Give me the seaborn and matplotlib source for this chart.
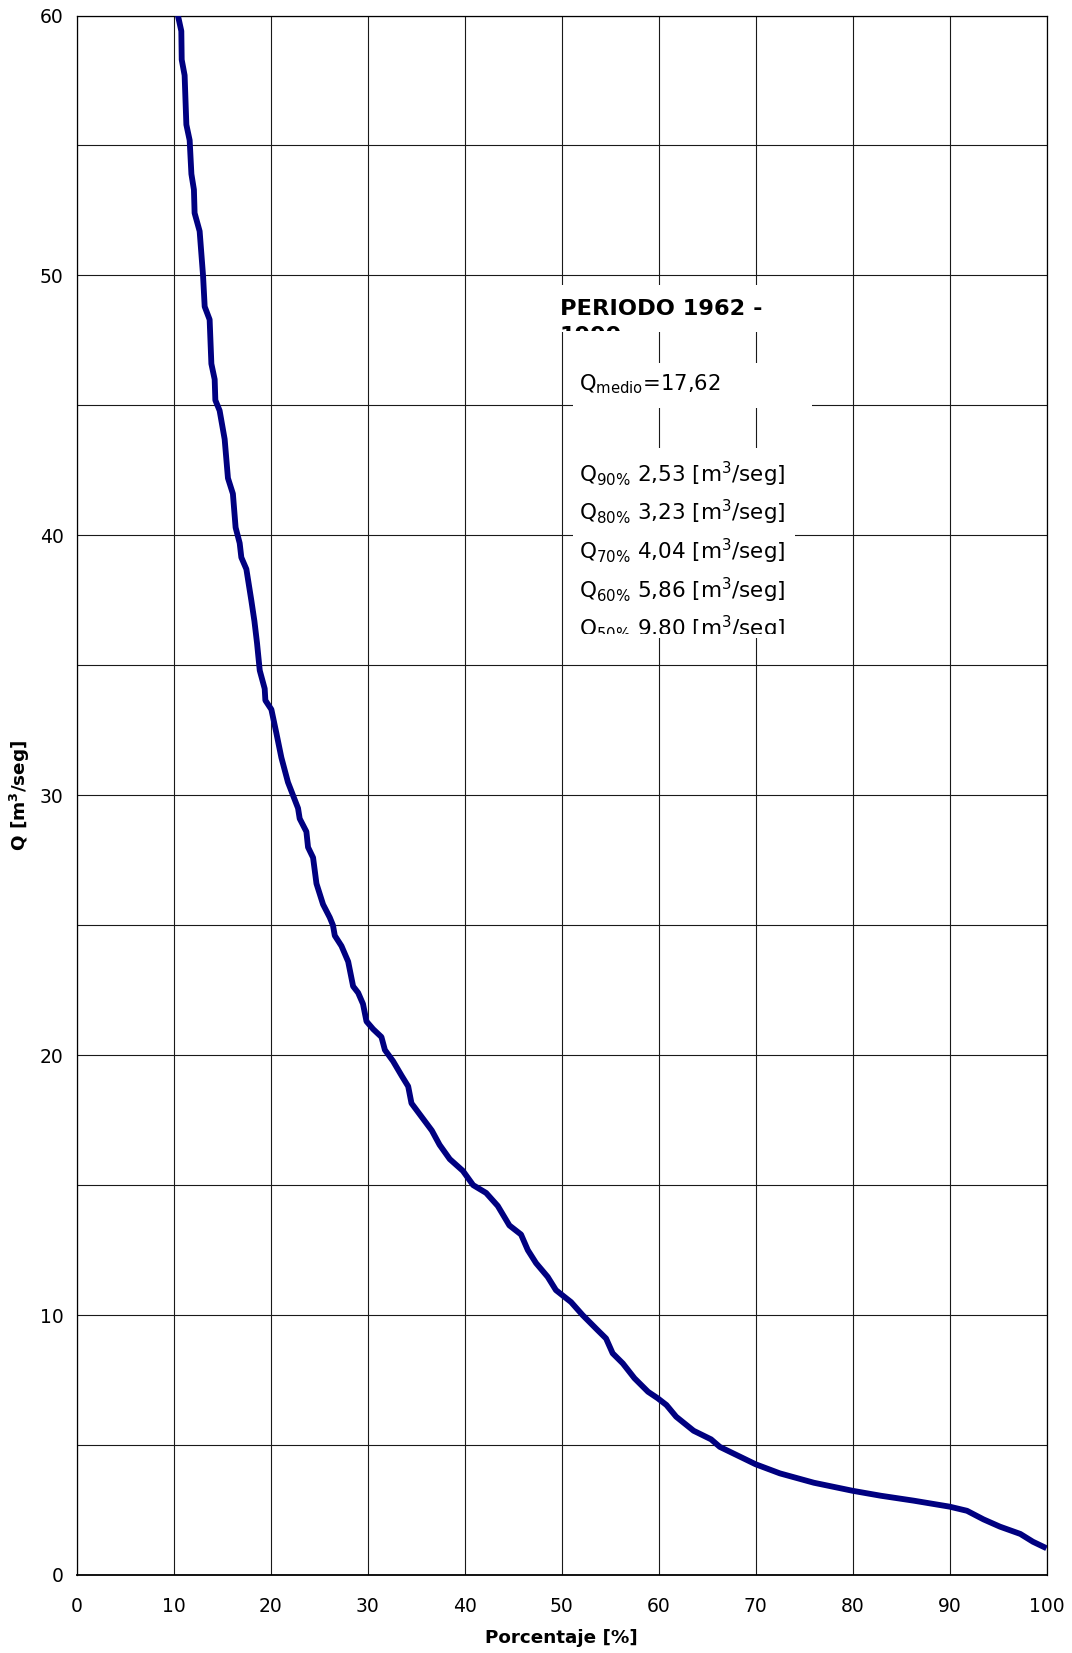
import matplotlib
matplotlib.use("Agg")
import matplotlib.pyplot as plt
import seaborn as sns
import pandas as pd
from matplotlib.patches import Rectangle
from matplotlib.transforms import Bbox, TransformedBbox

# ---------------- data ----------------
percent = [10.41, 10.76, 10.80, 11.10, 11.28, 11.62, 11.80, 12.06, 12.13, 12.65,
           13.00, 13.17, 13.68, 13.86, 14.20, 14.27, 14.71, 15.23, 15.57, 16.08,
           16.36, 16.78, 16.95, 17.47, 17.98, 18.30, 18.57, 18.85, 19.36, 19.43,
           20.05, 20.56, 21.08, 21.76, 22.28, 22.80, 22.97, 23.66, 23.83, 24.35,
           24.70, 25.38, 26.07, 26.40, 26.59, 27.28, 27.97, 28.48, 29.00, 29.50,
           29.86, 30.55, 31.40, 31.76, 32.60, 33.50, 34.16, 34.50, 35.40, 36.60,
           37.40, 38.45, 39.80, 40.86, 42.20, 43.40, 44.60, 45.80, 46.50, 47.35,
           48.55, 49.40, 50.96, 52.15, 53.70, 54.57, 55.25, 56.30, 57.50, 58.90,
           59.90, 60.80, 61.80, 63.60, 65.40, 66.30, 70.00, 72.50, 76.00, 80.00,
           82.90, 86.30, 90.00, 91.80, 93.50, 95.20, 97.30, 98.60, 100.00]
caudal = [60.0, 59.4, 58.3, 57.7, 55.8, 55.2, 53.9, 53.3, 52.4, 51.7,
          50.0, 48.8, 48.3, 46.6, 46.0, 45.2, 44.8, 43.7, 42.2, 41.6,
          40.3, 39.7, 39.15, 38.7, 37.5, 36.7, 35.85, 34.8, 34.1, 33.65,
          33.3, 32.4, 31.45, 30.5, 30.0, 29.5, 29.1, 28.6, 28.0, 27.6,
          26.6, 25.8, 25.3, 25.0, 24.6, 24.2, 23.6, 22.65, 22.4, 21.97,
          21.3, 21.0, 20.7, 20.2, 19.77, 19.2, 18.8, 18.15, 17.7, 17.1,
          16.55, 16.0, 15.55, 15.0, 14.7, 14.2, 13.45, 13.1, 12.5, 12.0,
          11.47, 10.96, 10.5, 10.0, 9.42, 9.1, 8.53, 8.14, 7.57, 7.05,
          6.8, 6.54, 6.09, 5.55, 5.22, 4.93, 4.26, 3.91, 3.55, 3.24,
          3.05, 2.86, 2.63, 2.47, 2.14, 1.86, 1.58, 1.28, 1.03]

x_ticks = [0, 10, 20, 30, 40, 50, 60, 70, 80, 90, 100]
y_ticks = [0, 10, 20, 30, 40, 50, 60]
y_minor = [0, 5, 10, 15, 20, 25, 30, 35, 40, 45, 50, 55, 60]

title_line1 = "PERIODO 1962 -"
title_line2 = "1999"
qmedio_text = r"Q$_{\mathrm{medio}}$=17,62"
q_labels = ["90%", "80%", "70%", "60%", "50%"]
q_values = ["2,53", "3,23", "4,04", "5,86", "9,80"]

df = pd.DataFrame({"Porcentaje": percent, "Q": caudal})

# ---------------- figure ----------------
W, H = 1072, 1653
sns.set_style("white")
plt.rcParams["font.family"] = ["DejaVu Sans"]
plt.rcParams["mathtext.fontset"] = "dejavusans"
plt.rcParams["text.color"] = "black"
plt.rcParams["axes.labelcolor"] = "black"
plt.rcParams["xtick.color"] = "black"
plt.rcParams["ytick.color"] = "black"

fig = plt.figure(figsize=(W / 100, H / 100), dpi=100)
L, R, T, B = 77, 1046.5, 15.5, 1575
ax = fig.add_axes([L / W, 1 - B / H, (R - L) / W, (B - T) / H])

sns.lineplot(data=df, x="Porcentaje", y="Q", ax=ax, sort=False, estimator=None,
             color="#000080", linewidth=4.2, zorder=3)
for ln in ax.lines:
    ln.set_solid_capstyle("butt")
    ln.set_solid_joinstyle("round")

ax.set_xlim(0, 100)
ax.set_ylim(0, 60)
ax.set_xticks(x_ticks)
ax.set_yticks(y_ticks)
ax.set_yticks(y_minor, minor=True)
ax.grid(True, which="both", axis="y", color="#1a1a1a", linewidth=0.8, zorder=0)
ax.grid(True, which="major", axis="x", color="#1a1a1a", linewidth=0.8, zorder=0)
ax.set_axisbelow(True)
ax.tick_params(axis="both", which="major", direction="out", length=4.5, width=0.8,
               color="black", labelsize=13.5, labelcolor="black")
ax.tick_params(axis="y", which="major", pad=5)
ax.tick_params(axis="x", which="major", pad=11)
ax.tick_params(which="minor", length=0)
for s in ax.spines.values():
    s.set_color("black")
    s.set_linewidth(0.9)
ax.spines["bottom"].set_linewidth(1.3)

ax.set_xlabel("Porcentaje [%]", fontsize=13.2, fontweight="bold", labelpad=10)
ax.set_ylabel(r"Q [m$^{\mathbf{3}}$/seg]", fontsize=13.2, fontweight="bold", labelpad=6)


# ---------------- annotation boxes ----------------
def fx(x):
    return x / W


def fy(y):
    return 1 - y / H


def white_box(x0, y0, x1, y1):
    fig.add_artist(Rectangle((fx(x0), fy(y1)), fx(x1) - fx(x0), fy(y0) - fy(y1),
                             transform=fig.transFigure, facecolor="white",
                             edgecolor="none", zorder=1))


def clip_fig(x0, y0, x1, y1):
    return TransformedBbox(Bbox.from_extents(fx(x0), fy(y1), fx(x1), fy(y0)),
                           fig.transFigure)


white_box(552, 285, 800, 332)
white_box(573, 363, 812, 408)
white_box(573, 448, 795, 638)

fig.text(fx(560), fy(315), title_line1, fontsize=16.2, fontweight="bold",
         ha="left", va="baseline", zorder=4)
t2 = fig.text(fx(560), fy(342), title_line2, fontsize=16.2, fontweight="bold",
              ha="left", va="baseline", zorder=4)
t2.set_clip_box(clip_fig(552, 285, 800, 331))
t2.set_clip_on(True)

fig.text(fx(579), fy(390), qmedio_text, fontsize=15.2, ha="left", va="baseline", zorder=4)

base = 482
for i, (lab, val) in enumerate(zip(q_labels, q_values)):
    t = fig.text(fx(579), fy(base + 38.6 * i),
                 r"Q$_{" + lab.replace("%", r"\%") + r"}$ " + val + r" [m$^{3}$/seg]",
                 fontsize=15.5, ha="left", va="baseline", zorder=4)
    t.set_clip_box(clip_fig(573, 448, 795, 634))
    t.set_clip_on(True)

fig.savefig("out.png", dpi=100)
